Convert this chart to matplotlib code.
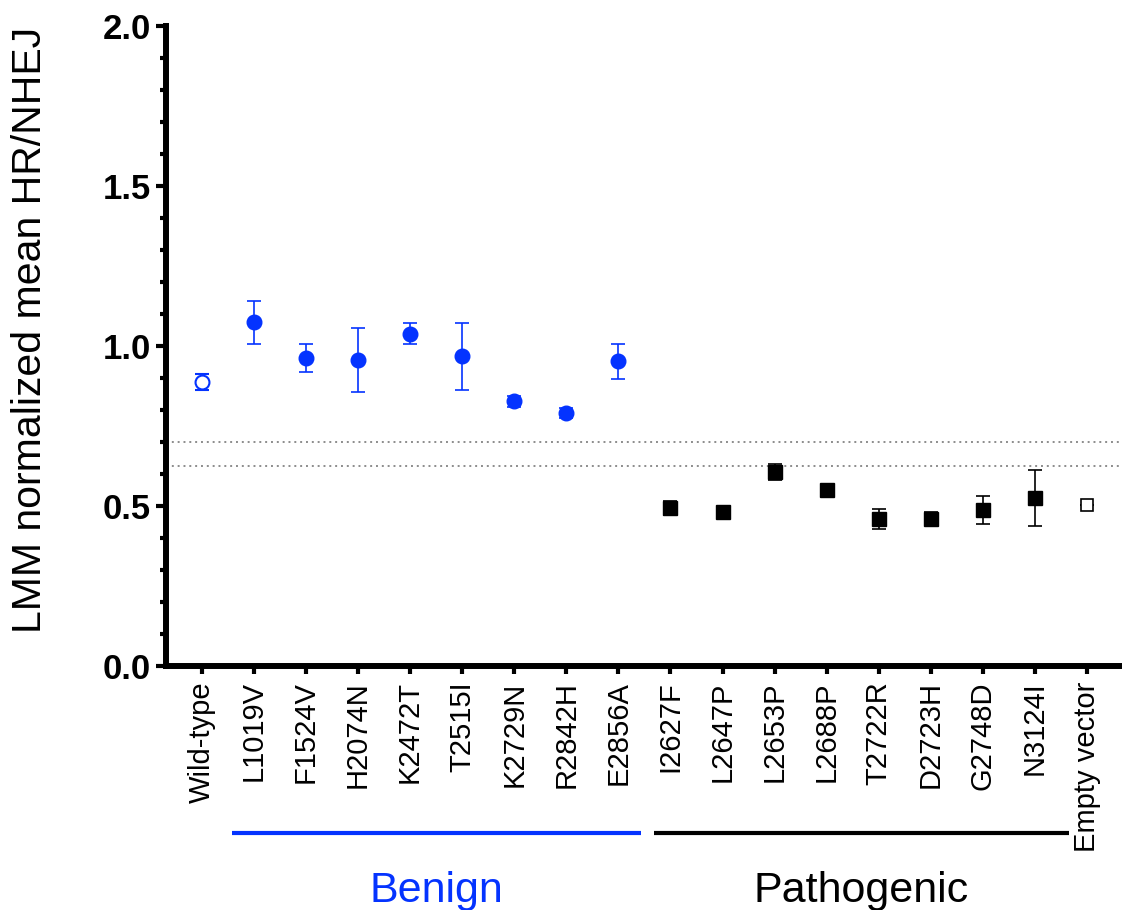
import matplotlib
matplotlib.use('Agg')
import matplotlib.pyplot as plt
import matplotlib.transforms as mtransforms
import numpy as np

plt.rcParams['font.family'] = ['Liberation Sans', 'DejaVu Sans']

# values
labels = ['Wild-type', 'L1019V', 'F1524V', 'H2074N', 'K2472T', 'T2515I', 'K2729N',
          'R2842H', 'E2856A', 'I2627F', 'L2647P', 'L2653P', 'L2688P', 'T2722R',
          'D2723H', 'G2748D', 'N3124I', 'Empty vector']
means = [0.888, 1.074, 0.963, 0.956, 1.039, 0.968, 0.827, 0.792, 0.953,
         0.494, 0.482, 0.607, 0.551, 0.460, 0.460, 0.488, 0.526, 0.502]
errs = [0.024, 0.066, 0.045, 0.100, 0.032, 0.105, 0.017, 0.016, 0.055,
        0.022, 0.015, 0.024, 0.010, 0.032, 0.020, 0.045, 0.088, 0.0]
thresholds = [0.700, 0.625]
group_names = ['Benign', 'Pathogenic']
group_spans = [(0.58, 8.43), (8.68, 16.66)]

blue = '#0433FF'

fig = plt.figure(figsize=(11.22, 9.10), dpi=100)
ax = fig.add_axes([166/1122, 0.268, 1 - 166/1122, 0.9714 - 0.268])

x = np.arange(len(labels))
means = np.array(means)
errs = np.array(errs)

for yv in thresholds:
    ax.axhline(yv, color='#8c8c8c', lw=1.4, linestyle=(0, (1, 2)), zorder=1)

# wild-type
ax.errorbar(x[0], means[0], yerr=errs[0], fmt='o', ms=10, mfc='white', mec=blue,
            mew=1.5, ecolor=blue, elinewidth=1.2, capsize=4.7, capthick=1.2, zorder=3)
# benign
ax.errorbar(x[1:9], means[1:9], yerr=errs[1:9], fmt='o', ms=10.5, color=blue,
            ecolor=blue, elinewidth=1.2, capsize=4.7, capthick=1.2, zorder=3)
# pathogenic
ax.errorbar(x[9:17], means[9:17], yerr=errs[9:17], fmt='s', ms=9.5, color='black',
            ecolor='black', elinewidth=1.2, capsize=4.7, capthick=1.2, zorder=3)
# empty vector
ax.errorbar(x[17], means[17], yerr=errs[17], fmt='s', ms=8.5, mfc='white', mec='black',
            mew=1.2, ecolor='black', elinewidth=1.2, capsize=4.7, zorder=3)

ax.set_xlim(-0.686, 17.67)
ax.set_ylim(0, 2.0)
ax.spines['top'].set_visible(False)
ax.spines['right'].set_visible(False)
ax.spines['left'].set_linewidth(4.3)
ax.spines['bottom'].set_linewidth(4.3)
ax.spines['left'].set_capstyle('projecting')

ax.set_yticks(np.arange(0, 2.01, 0.5))
ax.set_yticklabels(['0.0', '0.5', '1.0', '1.5', '2.0'], fontsize=25, fontweight='bold')
ax.set_yticks(np.arange(0, 2.01, 0.1), minor=True)
ax.tick_params(axis='y', which='major', length=7, width=3, pad=4)
ax.tick_params(axis='y', which='minor', length=4, width=3)

ax.set_xticks(x)
ax.set_xticklabels(labels, rotation=90, fontsize=21)
ax.tick_params(axis='x', which='major', length=6, width=3, pad=5)

fig.text(30/1122, 1 - 330/910, 'LMM normalized mean HR/NHEJ', rotation=90,
         ha='center', va='center', fontsize=29.5)

trans = mtransforms.blended_transform_factory(ax.transData, fig.transFigure)
colors = [blue, 'black']
for name, (a, b), c in zip(group_names, group_spans, colors):
    ax.plot([a, b], [0.085, 0.085], color=c, lw=3, transform=trans, clip_on=False,
            solid_capstyle='butt')
    ax.text((a + b) / 2, 0.0091, name, color=c, fontsize=31, ha='center',
            va='baseline', transform=trans)

fig.savefig('out.png', dpi=100)
